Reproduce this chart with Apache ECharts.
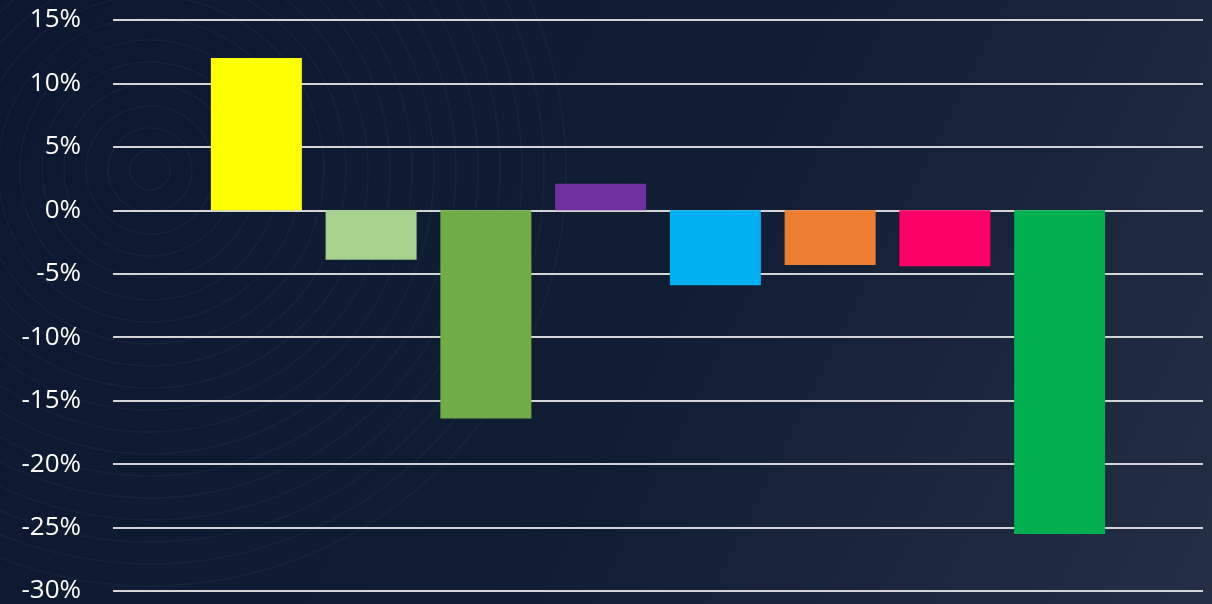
<!DOCTYPE html>
<html>
<head>
<meta charset="utf-8">
<script src="https://cdn.jsdelivr.net/npm/echarts@6/dist/echarts.min.js"></script>
<style>
  html, body { margin: 0; padding: 0; background: #0e1a2f; }
  #chart { width: 1212px; height: 604px; }
</style>
</head>
<body>
<div id="chart"></div>
<script>
const categories = ['C1', 'C2', 'C3', 'C4', 'C5', 'C6', 'C7', 'C8'];
const values = [12.0, -3.9, -16.4, 2.1, -5.9, -4.3, -4.4, -25.5];
const barColors = ['#ffff00', '#a9d18e', '#70ad47', '#7030a0', '#00b0f0', '#ed7d31', '#ff0066', '#00b050'];
const yMin = -30, yMax = 15, yStep = 5;

// faint concentric rings in the background (decoration only)
const rings = [];
for (let r = 20; r < 420; r += 22) {
  rings.push({
    type: 'circle', silent: true, z: -1,
    shape: { cx: 150, cy: 170, r: r },
    style: { fill: null, stroke: 'rgba(120,140,170,0.07)', lineWidth: 1.5 }
  });
}

const chart = echarts.init(document.getElementById('chart'));
chart.setOption({
  animation: false,
  backgroundColor: new echarts.graphic.LinearGradient(0, 0, 1, 1, [
    { offset: 0, color: '#0c1830' },
    { offset: 0.55, color: '#111d33' },
    { offset: 1, color: '#242f45' }
  ]),
  graphic: rings,
  grid: [
    { left: 113, right: 9, top: 20, bottom: 13 },
    { left: 199, right: 95, top: 20, bottom: 13 }
  ],
  xAxis: [
    { gridIndex: 0, type: 'value', min: 0, max: 1, show: false },
    {
      gridIndex: 1, type: 'category', data: categories,
      axisLine: { show: false }, axisTick: { show: false }, axisLabel: { show: false }
    }
  ],
  yAxis: [
    {
      gridIndex: 0, type: 'value', min: yMin, max: yMax, interval: yStep,
      axisLine: { show: false }, axisTick: { show: false },
      axisLabel: {
        formatter: v => v + '%',
        color: '#ffffff', fontSize: 26, fontFamily: 'Open Sans', margin: 32
      },
      splitLine: { lineStyle: { color: '#d4d4d4', width: 2 } }
    },
    {
      gridIndex: 1, type: 'value', min: yMin, max: yMax, interval: yStep,
      show: false, splitLine: { show: false }
    }
  ],
  series: [{
    type: 'bar',
    xAxisIndex: 1,
    yAxisIndex: 1,
    barWidth: 91,
    data: values.map((v, i) => ({ value: v, itemStyle: { color: barColors[i] } }))
  }]
});
</script>
</body>
</html>
